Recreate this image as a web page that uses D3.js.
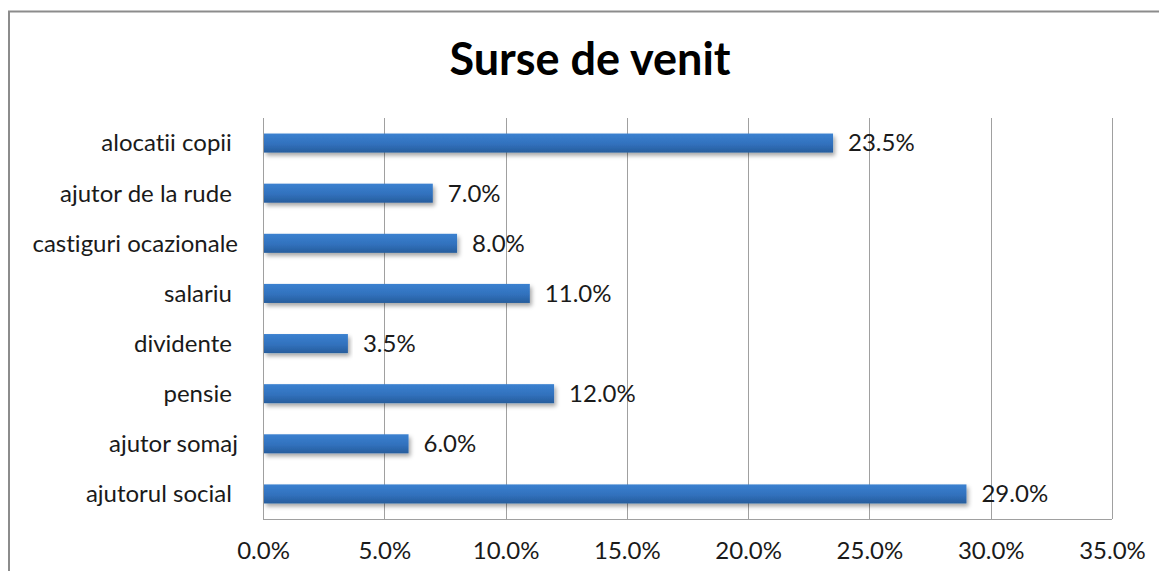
<!DOCTYPE html>
<html>
<head>
<meta charset="utf-8">
<script src="https://cdn.jsdelivr.net/npm/d3@7"></script>
<style>
  body { margin: 0; background: #fff; }
  svg text { font-family: Lato, "Open Sans", sans-serif; fill: #1a1a1a; white-space: pre; font-variant-ligatures: none; }
</style>
</head>
<body>
<svg id="chart" width="1159" height="571"></svg>
<script>
// categories top to bottom, with Excel's trailing spaces
const categories = [
  "alocatii copii ",
  "ajutor de la rude ",
  "castiguri ocazionale",
  "salariu ",
  "dividente ",
  "pensie ",
  "ajutor somaj",
  "ajutorul social "
];
const values = [23.5, 7.0, 8.0, 11.0, 3.5, 12.0, 6.0, 29.0];
const xTicks = [0, 5, 10, 15, 20, 25, 30, 35];
const title = "Surse de venit";

const data = categories.map((c, i) => ({ cat: c, value: values[i] }));

const svg = d3.select("#chart");
const plotLeft = 263, plotRight = 1112, plotTop = 118, plotBottom = 519;

const x = d3.scaleLinear().domain([0, 35]).range([plotLeft, plotRight]);
const y = d3.scaleBand().domain(categories).range([plotTop, plotBottom]).paddingInner(0.62).paddingOuter(0.31);

// outer chart border
svg.append("path")
  .attr("d", `M9,571 V11.5 H1159`)
  .attr("fill", "none")
  .attr("stroke", "#8c8c8c")
  .attr("stroke-width", 2);

svg.append("text")
  .attr("x", 590)
  .attr("y", 75)
  .attr("text-anchor", "middle")
  .attr("font-size", 45)
  .attr("font-weight", "bold")
  .style("fill", "#000")
  .text(title);

const defs = svg.append("defs");
const grad = defs.append("linearGradient")
  .attr("id", "barGrad")
  .attr("x1", 0).attr("y1", 0).attr("x2", 0).attr("y2", 1);
grad.append("stop").attr("offset", "0%").attr("stop-color", "#3b81d0");
grad.append("stop").attr("offset", "55%").attr("stop-color", "#3171bd");
grad.append("stop").attr("offset", "100%").attr("stop-color", "#275d9c");

const shadow = defs.append("filter").attr("id", "shadow")
  .attr("x", "-5%").attr("y", "-30%").attr("width", "110%").attr("height", "180%");
shadow.append("feDropShadow")
  .attr("dx", 2).attr("dy", 3).attr("stdDeviation", 2)
  .attr("flood-color", "#000").attr("flood-opacity", 0.35);

// vertical gridlines
svg.append("g")
  .selectAll("line")
  .data(xTicks)
  .join("line")
  .attr("x1", d => Math.round(x(d)) + 0.5)
  .attr("x2", d => Math.round(x(d)) + 0.5)
  .attr("y1", plotTop)
  .attr("y2", plotBottom)
  .attr("stroke", "#a0a0a0");

// bottom axis line
svg.append("line")
  .attr("x1", plotLeft).attr("x2", plotRight)
  .attr("y1", plotBottom + 0.5).attr("y2", plotBottom + 0.5)
  .attr("stroke", "#a0a0a0");

// x tick labels
const xAxis = svg.append("g")
  .attr("transform", `translate(0,${plotBottom})`)
  .call(d3.axisBottom(x).tickValues(xTicks).tickSize(0).tickPadding(23).tickFormat(d => d.toFixed(1) + "%"));
xAxis.select(".domain").remove();
xAxis.selectAll("text").attr("font-size", 24).attr("font-family", null).style("fill", "#1a1a1a");

// category labels
svg.append("g")
  .selectAll("text")
  .data(data)
  .join("text")
  .attr("x", 238)
  .attr("y", d => y(d.cat) + y.bandwidth() / 2)
  .attr("dy", "0.35em")
  .attr("text-anchor", "end")
  .attr("font-size", 24)
  .text(d => d.cat);

// bars
svg.append("g")
  .selectAll("rect")
  .data(data)
  .join("rect")
  .attr("x", x(0) + 1)
  .attr("y", d => y(d.cat))
  .attr("width", d => x(d.value) - x(0) - 1)
  .attr("height", y.bandwidth())
  .attr("fill", "url(#barGrad)")
  .attr("filter", "url(#shadow)");

// value labels
svg.append("g")
  .selectAll("text")
  .data(data)
  .join("text")
  .attr("x", d => x(d.value) + 15)
  .attr("y", d => y(d.cat) + y.bandwidth() / 2)
  .attr("dy", "0.35em")
  .attr("font-size", 24)
  .text(d => d.value.toFixed(1) + "%");
</script>
</body>
</html>
